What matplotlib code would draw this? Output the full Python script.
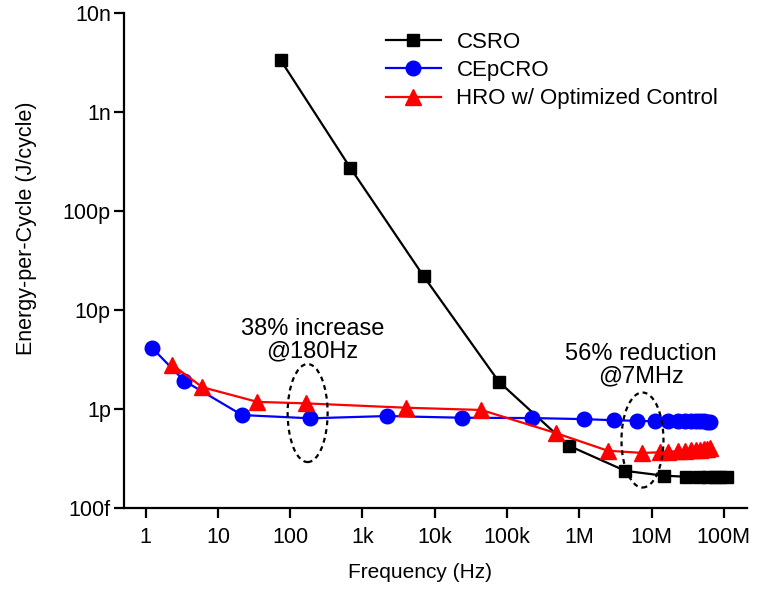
import numpy as np
import matplotlib
matplotlib.use("Agg")
from matplotlib import pyplot as plt
from matplotlib.patches import Ellipse

plt.rcParams['font.family'] = ['Liberation Sans', 'DejaVu Sans']

# CSRO (black squares)
csro_f = [73.6, 678, 7000, 77000, 716e3, 4.35e6, 14.7e6, 30e6, 45e6, 60e6, 75e6, 90e6, 110e6]
csro_e = [3.35e-9, 2.73e-10, 2.2e-11, 1.89e-12, 4.26e-13, 2.37e-13, 2.12e-13,
          2.07e-13, 2.05e-13, 2.05e-13, 2.05e-13, 2.05e-13, 2.05e-13]

# CEpCRO (blue circles)
cep_f = [1.24, 3.39, 21.5, 190, 2200, 23.7e3, 222e3, 1.18e6, 3.0e6, 6.24e6, 11.3e6,
         17e6, 23e6, 29e6, 35e6, 41e6, 47e6, 53e6, 59e6, 65e6]
cep_e = [4.1e-12, 1.93e-12, 8.69e-13, 8.05e-13, 8.49e-13, 8.16e-13, 8.1e-13, 7.9e-13,
         7.7e-13, 7.6e-13, 7.5e-13, 7.5e-13, 7.5e-13, 7.5e-13, 7.5e-13, 7.5e-13,
         7.5e-13, 7.5e-13, 7.4e-13, 7.4e-13]

# HRO w/ Optimized Control (red triangles)
hro_f = [2.34, 6.08, 35.1, 163, 4030, 44e3, 469e3, 2.48e6, 7.41e6, 12.9e6,
         17e6, 23e6, 29e6, 35e6, 41e6, 47e6, 53e6, 59e6, 65e6]
hro_e = [2.78e-12, 1.66e-12, 1.18e-12, 1.14e-12, 1.03e-12, 9.78e-13, 5.73e-13, 3.79e-13,
         3.6e-13, 3.65e-13, 3.7e-13, 3.75e-13, 3.78e-13, 3.82e-13, 3.85e-13, 3.88e-13,
         3.92e-13, 3.95e-13, 4.0e-13]

x_ticks = [1, 10, 100, 1e3, 1e4, 1e5, 1e6, 1e7, 1e8]
x_labels = ['1', '10', '100', '1k', '10k', '100k', '1M', '10M', '100M']
y_ticks = [1e-13, 1e-12, 1e-11, 1e-10, 1e-9, 1e-8]
y_labels = ['100f', '1p', '10p', '100p', '1n', '10n']

fig = plt.figure(figsize=(7.62, 5.92), dpi=100)
ax = fig.add_axes([0.1627, 0.1419, 0.8173, 0.8361])

ax.plot(csro_f, csro_e, color='black', lw=1.6, marker='s', ms=8.5, label='CSRO')
ax.plot(cep_f, cep_e, color='blue', lw=1.6, marker='o', ms=10.5, label='CEpCRO')
ax.plot(hro_f, hro_e, color='red', lw=1.6, marker='^', ms=11, label='HRO w/ Optimized Control')

ax.set_xscale('log')
ax.set_yscale('log')
ax.set_xlim(0.5, 2.08e8)
ax.set_ylim(1e-13, 1e-8)
ax.set_xticks(x_ticks)
ax.set_xticklabels(x_labels)
ax.set_yticks(y_ticks)
ax.set_yticklabels(y_labels)
ax.minorticks_off()

for side in ['top', 'right']:
    ax.spines[side].set_visible(False)
for side in ['left', 'bottom']:
    ax.spines[side].set_linewidth(1.6)
ax.tick_params(axis='both', which='major', length=7.5, width=1.6, labelsize=15.5)
ax.tick_params(axis='x', pad=6)
ax.tick_params(axis='y', pad=2)

ax.set_xlabel('Frequency (Hz)', fontsize=15)
ax.set_ylabel('Energy-per-Cycle (J/cycle)', fontsize=15.5)
ax.xaxis.set_label_coords(0.475, -0.131)
ax.yaxis.set_label_coords(-0.156, 0.566)
ax.xaxis.label.set_va('center')
ax.yaxis.label.set_va('center')

ax.legend(loc='upper left', bbox_to_anchor=(0.406, 0.98), frameon=False, fontsize=16,
          handlelength=2.5, handletextpad=0.68, labelspacing=0.33, borderaxespad=0)

# dashed ellipses in axes fraction coordinates
def add_ellipse(f, e, w_px, h_px):
    cx, cy = ax.transAxes.inverted().transform(ax.transData.transform((f, e)))
    bbox = ax.get_window_extent()
    ell = Ellipse((cx, cy), w_px / bbox.width, h_px / bbox.height, transform=ax.transAxes,
                  fill=False, ec='black', lw=1.6, ls=(0, (2.2, 1.8)), zorder=5)
    ax.add_patch(ell)

add_ellipse(174, 9.1e-13, 40, 98)
add_ellipse(7.5e6, 4.86e-13, 42, 95)

ax.text(204, 4.97e-12, '38% increase\n@180Hz', ha='center', va='center', fontsize=17,
        linespacing=1.05)
ax.text(7.2e6, 2.78e-12, '56% reduction\n@7MHz', ha='center', va='center', fontsize=17,
        linespacing=1.05)

fig.savefig('out.png', dpi=100)
